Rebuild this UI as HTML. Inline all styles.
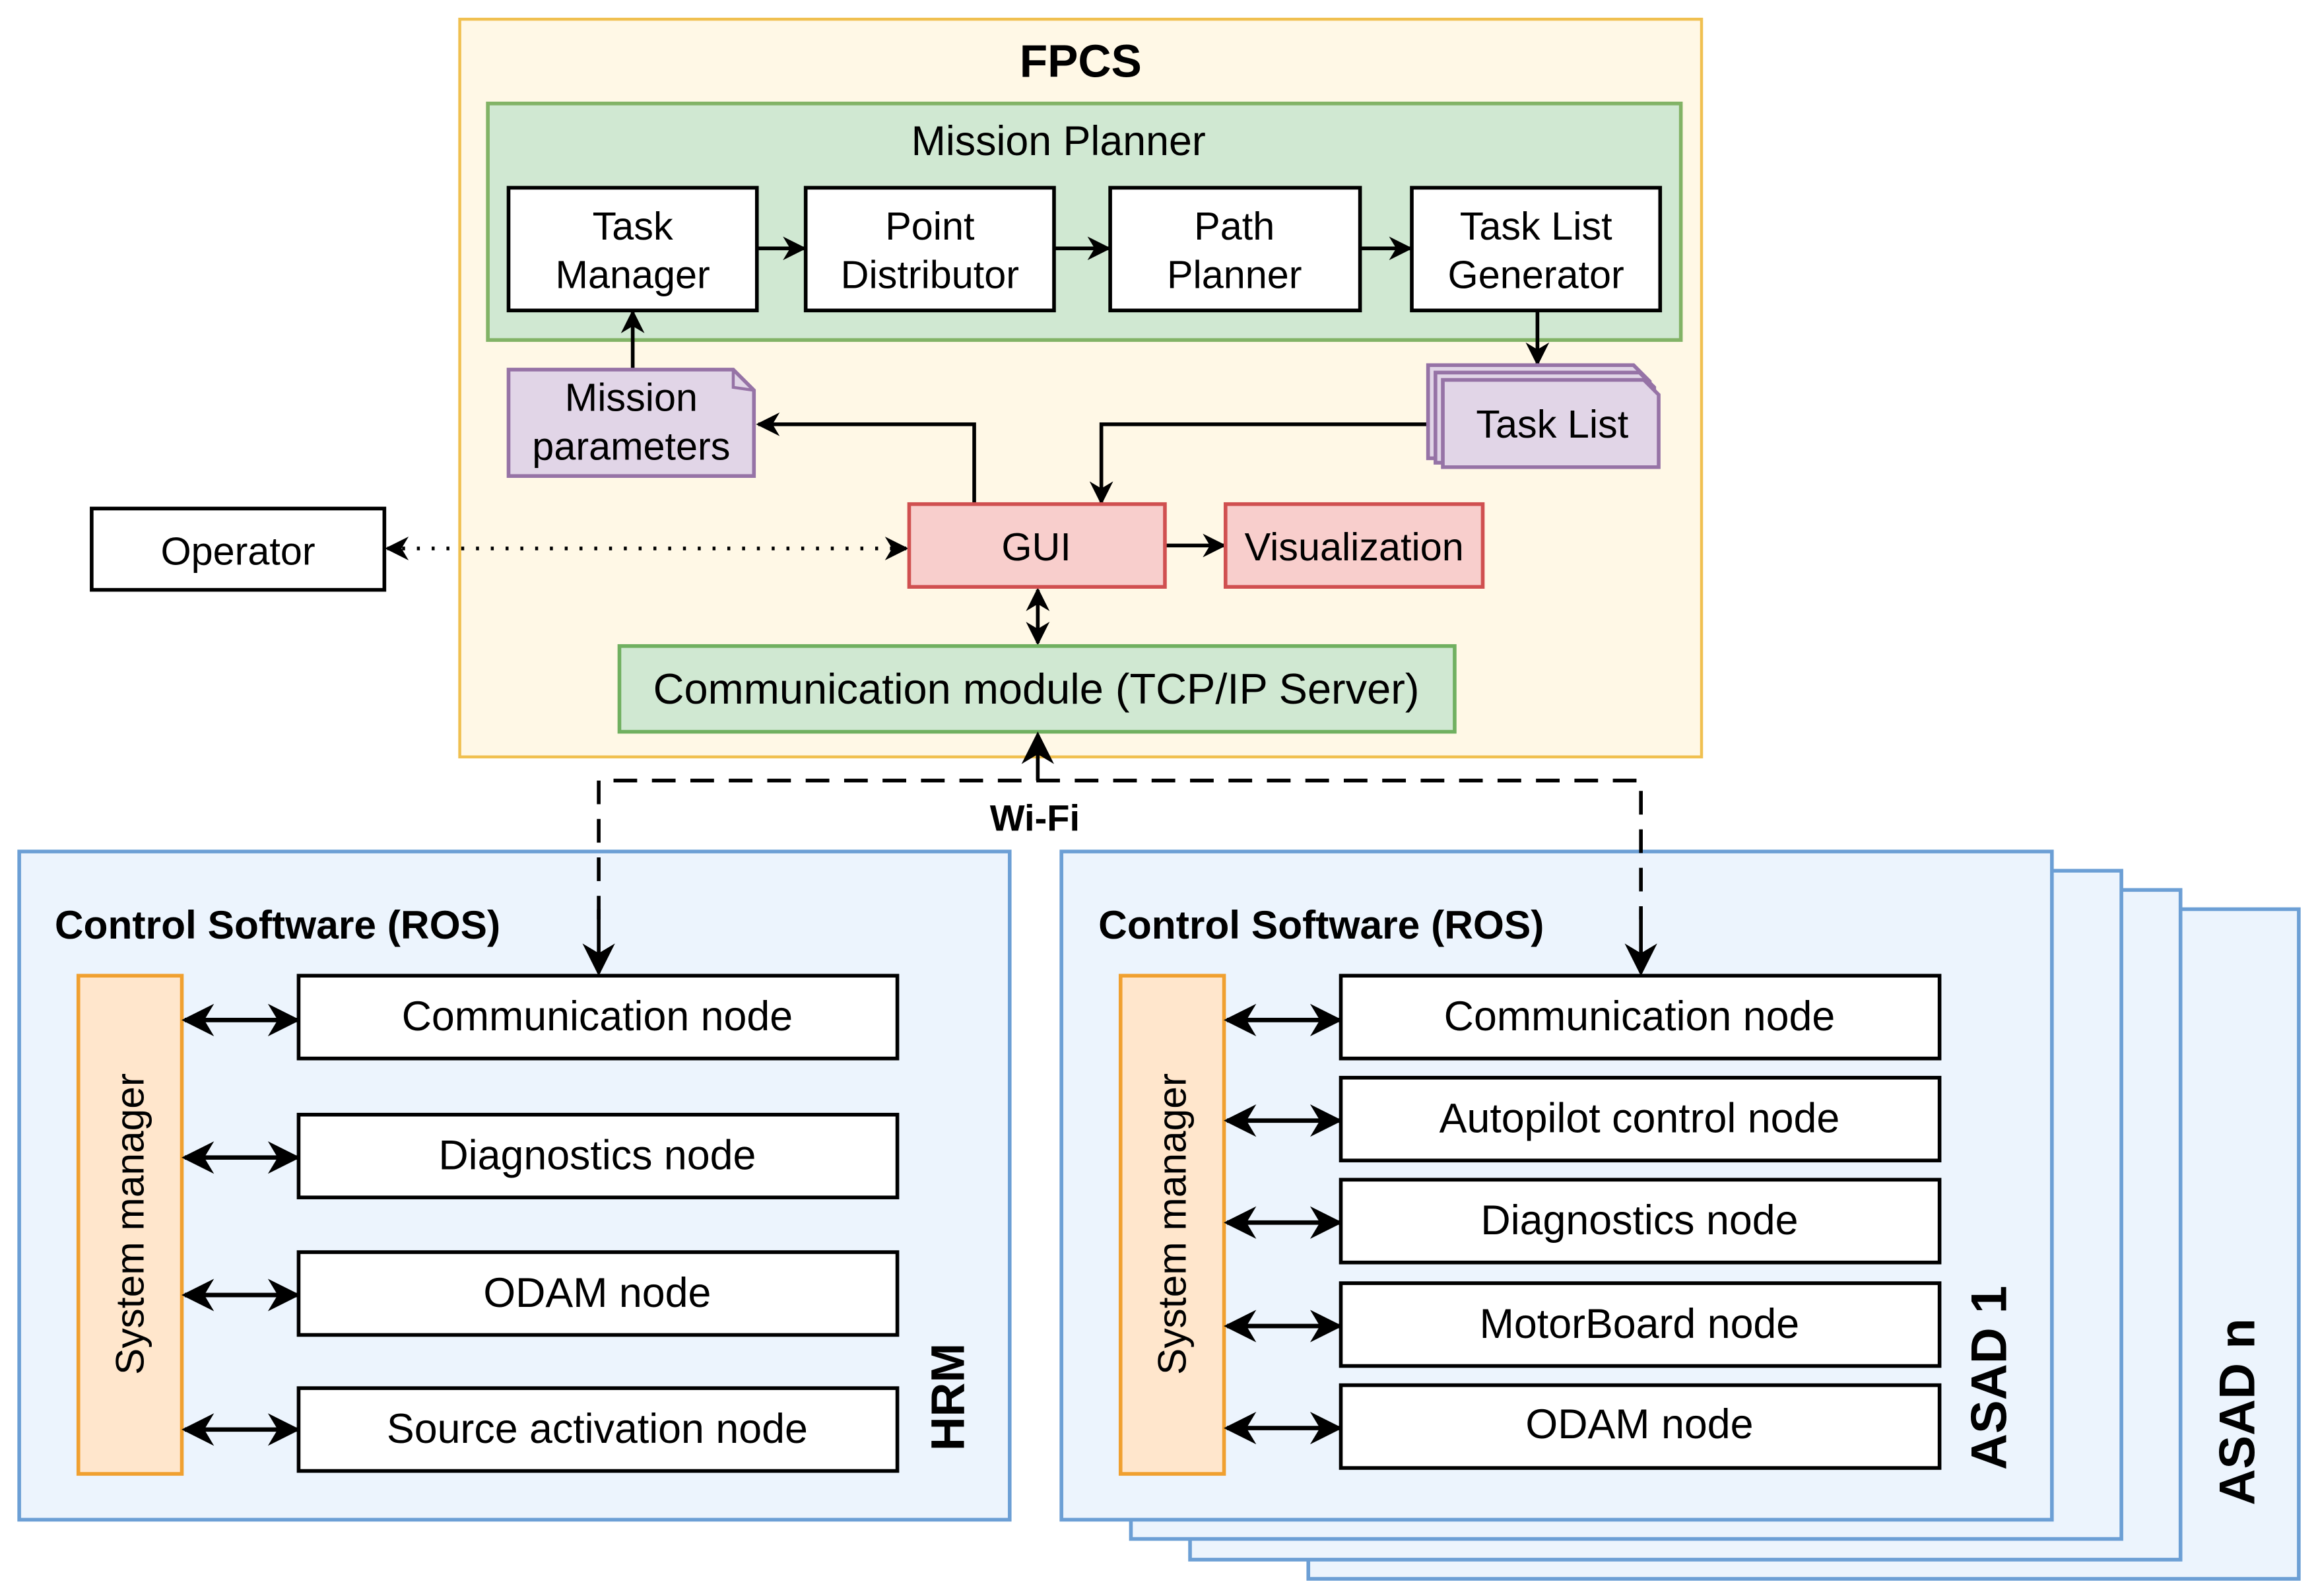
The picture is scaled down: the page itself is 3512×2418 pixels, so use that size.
<!DOCTYPE html>
<html><head><meta charset="utf-8"><style>html,body{margin:0;padding:0;background:#fff}svg{display:block}</style></head>
<body>
<svg xmlns="http://www.w3.org/2000/svg" width="3512" height="2418" viewBox="0 0 1568 1079.6" preserveAspectRatio="none" font-family="Liberation Sans, sans-serif">
<defs>
<marker id="b" viewBox="0 0 10 10" refX="9" refY="5" markerWidth="16" markerHeight="16" orient="auto-start-reverse" markerUnits="userSpaceOnUse"><path d="M0,0 L10,5 L0,10 L3,5 z" fill="#000"/></marker>
<marker id="c" viewBox="0 0 10 10" refX="9" refY="5" markerWidth="22" markerHeight="22" orient="auto-start-reverse" markerUnits="userSpaceOnUse"><path d="M0,0 L10,5 L0,10 L3,5 z" fill="#000"/></marker>
</defs>
<rect width="1568" height="1080" fill="#fff"/>
<!-- FPCS -->
<rect x="311" y="13" width="840" height="499" fill="#fff8e6" stroke="#f0c050" stroke-width="2"/>
<text x="731" y="52" font-size="31" font-weight="bold" text-anchor="middle">FPCS</text>
<rect x="330" y="70" width="807" height="160" fill="#d0e8d2" stroke="#82b366" stroke-width="2.5"/>
<text x="716" y="105" font-size="28" text-anchor="middle">Mission Planner</text>
<g fill="#fff" stroke="#000" stroke-width="2.5">
<rect x="344" y="127" width="168" height="83"/><rect x="545" y="127" width="168" height="83"/>
<rect x="751" y="127" width="169" height="83"/><rect x="955" y="127" width="168" height="83"/>
</g>
<g font-size="26.5" text-anchor="middle">
<text x="428" y="162">Task</text><text x="428" y="195">Manager</text>
<text x="629" y="162">Point</text><text x="629" y="195">Distributor</text>
<text x="835" y="162">Path</text><text x="835" y="195">Planner</text>
<text x="1039" y="162">Task List</text><text x="1039" y="195">Generator</text>
</g>
<g stroke="#000" stroke-width="2.5" fill="none">
<line x1="512" y1="168" x2="544" y2="168" marker-end="url(#b)"/>
<line x1="713" y1="168" x2="750" y2="168" marker-end="url(#b)"/>
<line x1="920" y1="168" x2="954" y2="168" marker-end="url(#b)"/>
<line x1="428" y1="250" x2="428" y2="211" marker-end="url(#b)"/>
<line x1="1040" y1="210" x2="1040" y2="246" marker-end="url(#b)"/>
<polyline points="659,341 659,287 513,287" marker-end="url(#b)"/>
<polyline points="975,287 745,287 745,340" marker-end="url(#b)"/>
<line x1="788" y1="369" x2="828" y2="369" marker-end="url(#b)"/>
<line x1="702" y1="399" x2="702" y2="435" marker-start="url(#b)" marker-end="url(#b)"/>
<line x1="262" y1="371" x2="613" y2="371" stroke-dasharray="2,8" marker-start="url(#b)" marker-end="url(#b)"/>
</g>
<!-- docs -->
<path d="M344,250 H496 L510,264 V322 H344 Z" fill="#e1d5e7" stroke="#9673a6" stroke-width="2.5"/>
<path d="M496,250 V262 L510,264" fill="none" stroke="#9673a6" stroke-width="2"/>
<text x="427" y="278" font-size="26.5" text-anchor="middle">Mission</text>
<text x="427" y="311" font-size="26.5" text-anchor="middle">parameters</text>
<g fill="#e1d5e7" stroke="#9673a6" stroke-width="2.5">
<path d="M966,247 H1105 L1116,258 V310 H966 Z"/>
<path d="M971,252 H1109 L1119,262 V313 H971 Z"/>
<path d="M976,257 H1112 L1122,267 V316 H976 Z"/>
</g>
<text x="1050" y="296" font-size="26.5" text-anchor="middle">Task List</text>
<rect x="615" y="341" width="173" height="56" fill="#f8cecc" stroke="#d05050" stroke-width="2.5"/>
<text x="701" y="379" font-size="26.5" text-anchor="middle">GUI</text>
<rect x="829" y="341" width="174" height="56" fill="#f8cecc" stroke="#d05050" stroke-width="2.5"/>
<text x="916" y="379" font-size="26.5" text-anchor="middle">Visualization</text>
<rect x="419" y="437" width="565" height="58" fill="#d0e8d2" stroke="#70b060" stroke-width="2.5"/>
<text x="701" y="476" font-size="29" text-anchor="middle">Communication module (TCP/IP Server)</text>
<rect x="62" y="344" width="198" height="55" fill="#fff" stroke="#000" stroke-width="2.5"/>
<text x="161" y="382" font-size="26.5" text-anchor="middle">Operator</text>
<!-- HRM -->
<rect x="13" y="576" width="670" height="452" fill="#ecf4fd" stroke="#6c9fd5" stroke-width="2.5"/>
<text x="37" y="635" font-size="27" font-weight="bold">Control Software (ROS)</text>
<rect x="53" y="660" width="70" height="337" fill="#ffe6cc" stroke="#f0a030" stroke-width="2.5"/>
<text transform="translate(97,828) rotate(-90)" font-size="27" text-anchor="middle">System manager</text>
<text transform="translate(652,945) rotate(-90)" font-size="32" font-weight="bold" text-anchor="middle">HRM</text>
<g fill="#fff" stroke="#000" stroke-width="2.5">
<rect x="202" y="660" width="405" height="56"/><rect x="202" y="754" width="405" height="56"/>
<rect x="202" y="847" width="405" height="56"/><rect x="202" y="939" width="405" height="56"/>
</g>
<g font-size="28" text-anchor="middle">
<text x="404" y="697">Communication node</text><text x="404" y="791">Diagnostics node</text>
<text x="404" y="884">ODAM node</text><text x="404" y="976">Source activation node</text>
</g>
<g stroke="#000" stroke-width="3">
<line x1="125" y1="690" x2="201" y2="690" marker-start="url(#c)" marker-end="url(#c)"/>
<line x1="125" y1="783" x2="201" y2="783" marker-start="url(#c)" marker-end="url(#c)"/>
<line x1="125" y1="876" x2="201" y2="876" marker-start="url(#c)" marker-end="url(#c)"/>
<line x1="125" y1="967" x2="201" y2="967" marker-start="url(#c)" marker-end="url(#c)"/>
</g>
<!-- ASAD stack -->
<g fill="#ecf4fd" stroke="#6c9fd5" stroke-width="2.5">
<rect x="885" y="615" width="670" height="453"/>
<rect x="805" y="602" width="670" height="453"/>
<rect x="765" y="589" width="670" height="452"/>
<rect x="718" y="576" width="670" height="452"/>
</g>
<text transform="translate(1525,955) rotate(-90)" font-size="34" font-weight="bold" text-anchor="middle">ASAD n</text>
<text x="743" y="635" font-size="27" font-weight="bold">Control Software (ROS)</text>
<rect x="758" y="660" width="70" height="337" fill="#ffe6cc" stroke="#f0a030" stroke-width="2.5"/>
<text transform="translate(802,828) rotate(-90)" font-size="27" text-anchor="middle">System manager</text>
<text transform="translate(1357,932) rotate(-90)" font-size="34" font-weight="bold" text-anchor="middle">ASAD 1</text>
<g fill="#fff" stroke="#000" stroke-width="2.5">
<rect x="907" y="660" width="405" height="56"/><rect x="907" y="729" width="405" height="56"/>
<rect x="907" y="798" width="405" height="56"/><rect x="907" y="868" width="405" height="56"/>
<rect x="907" y="937" width="405" height="56"/>
</g>
<g font-size="28" text-anchor="middle">
<text x="1109" y="697">Communication node</text><text x="1109" y="766">Autopilot control node</text>
<text x="1109" y="835">Diagnostics node</text><text x="1109" y="905">MotorBoard node</text>
<text x="1109" y="973">ODAM node</text>
</g>
<g stroke="#000" stroke-width="3">
<line x1="830" y1="690" x2="906" y2="690" marker-start="url(#c)" marker-end="url(#c)"/>
<line x1="830" y1="758" x2="906" y2="758" marker-start="url(#c)" marker-end="url(#c)"/>
<line x1="830" y1="827" x2="906" y2="827" marker-start="url(#c)" marker-end="url(#c)"/>
<line x1="830" y1="897" x2="906" y2="897" marker-start="url(#c)" marker-end="url(#c)"/>
<line x1="830" y1="966" x2="906" y2="966" marker-start="url(#c)" marker-end="url(#c)"/>
</g>
<!-- wifi (drawn last) -->
<g stroke="#000" stroke-width="2.5" fill="none">
<polyline points="405,622 405,528 1110,528 1110,622" stroke-dasharray="16,10"/>
<line x1="405" y1="615" x2="405" y2="658" marker-end="url(#c)"/>
<line x1="1110" y1="615" x2="1110" y2="658" marker-end="url(#c)"/>
<line x1="702" y1="528" x2="702" y2="497" marker-end="url(#c)"/>
</g>
<text x="700" y="562" font-size="25" font-weight="bold" text-anchor="middle">Wi-Fi</text>
</svg>
</body></html>
